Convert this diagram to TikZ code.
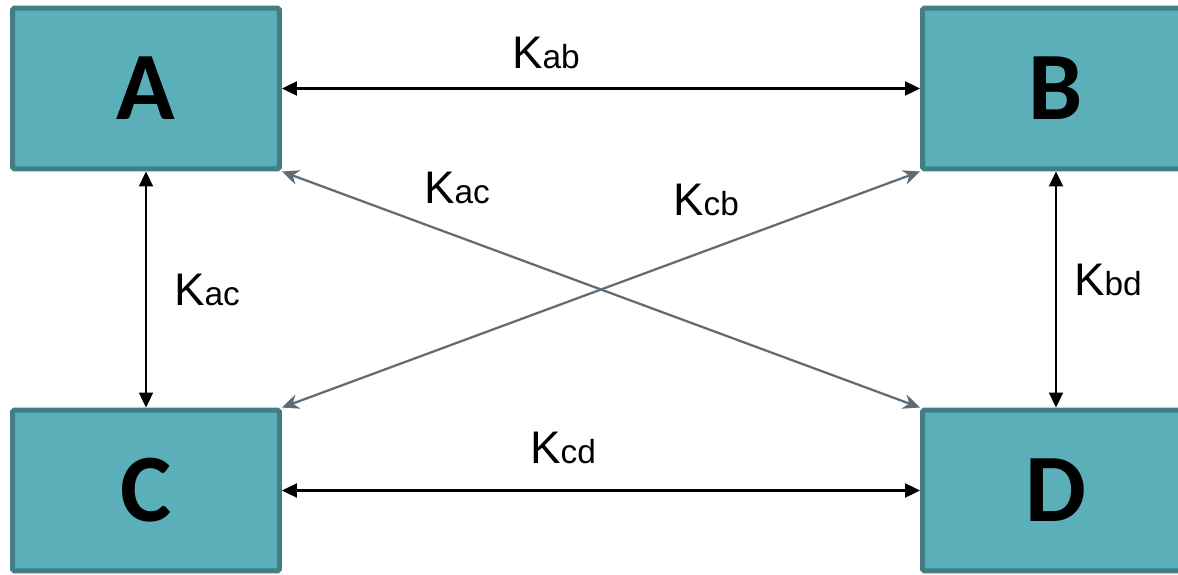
\documentclass[tikz,border=0pt]{standalone}
\usepackage{fontspec}
\usepackage{xcolor}
\usetikzlibrary{arrows.meta,positioning}
\newfontfamily\boxfont{Carlito}
\newfontfamily\ratefont{Liberation Sans}
\definecolor{boxfill}{RGB}{90,175,184}
\definecolor{boxline}{RGB}{66,126,131}
\definecolor{crossline}{RGB}{95,107,117}
\newcommand{\rate}[1]{{\fontsize{26}{30}\selectfont K}{\fontsize{19}{22}\selectfont #1}}

\begin{document}
\begin{tikzpicture}[x=0.02cm, y=-0.02cm,
  box/.style={draw=boxline, fill=boxfill, line width=0.1cm, rounded corners=1pt,
    minimum width=5.34cm, minimum height=3.22cm, inner sep=0pt,
    font=\boxfont\bfseries\fontsize{55}{60}\selectfont},
  rate/.style={anchor=base, inner sep=0pt, font=\ratefont},
  link/.style={{Triangle[length=0.3cm,width=0.28cm]}-{Triangle[length=0.3cm,width=0.28cm]}, line width=0.045cm},
  cross/.style={{Stealth[length=0.34cm,width=0.3cm]}-{Stealth[length=0.34cm,width=0.3cm]}, draw=crossline, line width=0.045cm}]
  \useasboundingbox (0,0) rectangle (1178,575);

  \node[box] (A) at (146,88.5) {A};
  \node[box] (B) at (1056,88.5) {B};
  \node[box] (C) at (146,490.5) {C};
  \node[box] (D) at (1056,490.5) {D};

  \path (A) edge[link] (B)
        (C) edge[link] (D)
        (A) edge[link] (C)
        (B) edge[link] (D)
        (A.south east) edge[cross] (D.north west)
        (C.north east) edge[cross] (B.south west);

  \node[rate] (kab) at (546,68) {\rate{ab}};
  \node[rate] (kcd) at (563,463) {\rate{cd}};
  \node[rate] (kacl) at (207,305) {\rate{ac}};
  \node[rate] (kbd) at (1108,295) {\rate{bd}};
  \node[rate] (kacd) at (457,203) {\rate{ac}};
  \node[rate] (kcb) at (706,215) {\rate{cb}};
\end{tikzpicture}
\end{document}
